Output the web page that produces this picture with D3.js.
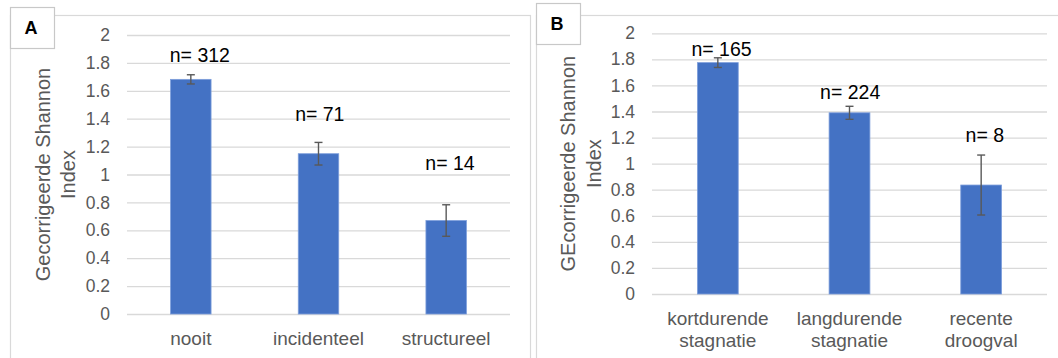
<!DOCTYPE html>
<html>
<head>
<meta charset="utf-8">
<script src="https://cdn.jsdelivr.net/npm/d3@7"></script>
<style>
  html, body { margin: 0; padding: 0; background: #ffffff; }
  svg { display: block; font-family: "Liberation Sans", Arial, sans-serif; }
</style>
</head>
<body>
<svg id="chart" width="1058" height="358"></svg>
<script>
// Panel A: Shannon index by frequency of drying
const categoriesA = [["nooit"], ["incidenteel"], ["structureel"]];
const valuesA = [1.682, 1.149, 0.670];
const errorsA = [0.033, 0.081, 0.113];
const countsA = [312, 71, 14];

// Panel B: Shannon index by type of stagnation
const categoriesB = [["kortdurende", "stagnatie"], ["langdurende", "stagnatie"], ["recente", "droogval"]];
const valuesB = [1.775, 1.390, 0.836];
const errorsB = [0.037, 0.050, 0.230];
const countsB = [165, 224, 8];

// Shared value axis
const tickValues = [0, 0.2, 0.4, 0.6, 0.8, 1, 1.2, 1.4, 1.6, 1.8, 2];
const tickLabels = ["0", "0.2", "0.4", "0.6", "0.8", "1", "1.2", "1.4", "1.6", "1.8", "2"];

const svg = d3.select("#chart");
const GRID = "#d9d9d9";
const TEXT = "#595959";
const BAR = "#4472c4";

const panels = [
  {
    letter: "A",
    frame: { x: 10, y: 15, w: 520, h: 360 },
    badge: { x: 10, y: 7, w: 44, h: 41 },
    x0: 127, x1: 510, yBottom: 314, yTop: 35,
    titleLines: ["Gecorrigeerde Shannon", "Index"], titleX: [50, 75.3],
    cats: categoriesA, vals: valuesA, errs: errorsA, counts: countsA,
    catBaseline: 345,
    nLevel: [1.806, 1.384, 1.032], nShift: [9, 1.3, 3.8],
    pad: 0.683
  },
  {
    letter: "B",
    frame: { x: 536, y: 15, w: 540, h: 360 },
    badge: { x: 536, y: 3, w: 44, h: 41 },
    x0: 652, x1: 1047, yBottom: 294, yTop: 33.3,
    titleLines: ["GEcorrigeerde Shannon", "Index"], titleX: [575.3, 601.3],
    cats: categoriesB, vals: valuesB, errs: errorsB, counts: countsB,
    catBaseline: 325,
    nLevel: [1.825, 1.495, 1.166], nShift: [3.7, 0.7, 3.7],
    pad: 0.69
  }
];

panels.forEach(p => {
  const g = svg.append("g");

  // outer frame of the panel
  g.append("rect")
    .attr("x", p.frame.x + 0.5).attr("y", p.frame.y + 0.5)
    .attr("width", p.frame.w).attr("height", p.frame.h)
    .attr("fill", "none").attr("stroke", GRID).attr("stroke-width", 1.2);

  const y = d3.scaleLinear().domain([0, 2]).range([p.yBottom, p.yTop]);
  const x = d3.scaleBand()
    .domain(p.cats.map((c, i) => i))
    .range([p.x0, p.x1])
    .paddingInner(p.pad).paddingOuter(p.pad / 2);

  // value axis with gridlines
  const axis = d3.axisLeft(y)
    .tickValues(tickValues)
    .tickFormat((d, i) => tickLabels[i])
    .tickSize(-(p.x1 - p.x0))
    .tickPadding(17);
  const ax = g.append("g").attr("transform", `translate(${p.x0},0)`).call(axis);
  ax.select(".domain").remove();
  ax.selectAll(".tick line").attr("stroke", GRID).attr("stroke-width", 1.3);
  ax.selectAll(".tick text")
    .attr("fill", TEXT)
    .style("font-size", "17.5px")
    .style("font-family", "'Liberation Sans', Arial, sans-serif");

  // axis title, two lines rotated
  const cy = (p.yTop + p.yBottom) / 2;
  p.titleLines.forEach((line, i) => {
    g.append("text")
      .attr("transform", `translate(${p.titleX[i]},${cy}) rotate(-90)`)
      .attr("text-anchor", "middle")
      .attr("fill", TEXT)
      .style("font-size", "20px")
      .text(line);
  });

  const idx = p.vals.map((v, i) => i);

  // bars
  g.selectAll("rect.bar").data(idx).enter().append("rect")
    .attr("class", "bar")
    .attr("x", i => x(i))
    .attr("width", x.bandwidth())
    .attr("y", i => y(p.vals[i]))
    .attr("height", i => y(0) - y(p.vals[i]))
    .attr("fill", BAR)
    .attr("stroke", "#7d9edb")
    .attr("stroke-width", 0.8);

  // error bars
  const cap = 4;
  const eb = g.selectAll("g.err").data(idx).enter().append("g")
    .attr("class", "err")
    .attr("stroke", "#595959").attr("stroke-width", 1.4);
  eb.append("line")
    .attr("x1", i => x(i) + x.bandwidth() / 2).attr("x2", i => x(i) + x.bandwidth() / 2)
    .attr("y1", i => y(p.vals[i] + p.errs[i])).attr("y2", i => y(p.vals[i] - p.errs[i]));
  eb.append("line")
    .attr("x1", i => x(i) + x.bandwidth() / 2 - cap).attr("x2", i => x(i) + x.bandwidth() / 2 + cap)
    .attr("y1", i => y(p.vals[i] + p.errs[i])).attr("y2", i => y(p.vals[i] + p.errs[i]));
  eb.append("line")
    .attr("x1", i => x(i) + x.bandwidth() / 2 - cap).attr("x2", i => x(i) + x.bandwidth() / 2 + cap)
    .attr("y1", i => y(p.vals[i] - p.errs[i])).attr("y2", i => y(p.vals[i] - p.errs[i]));

  // sample size annotations
  g.selectAll("text.n").data(idx).enter().append("text")
    .attr("class", "n")
    .attr("x", i => x(i) + x.bandwidth() / 2 + p.nShift[i])
    .attr("y", i => y(p.nLevel[i]))
    .attr("text-anchor", "middle")
    .attr("fill", "#000000")
    .style("font-size", "19.5px")
    .text(i => "n= " + p.counts[i]);

  // category labels
  const cl = g.selectAll("text.cat").data(idx).enter().append("text")
    .attr("class", "cat")
    .attr("text-anchor", "middle")
    .attr("fill", TEXT)
    .style("font-size", "19px");
  cl.each(function(i) {
    const t = d3.select(this);
    p.cats[i].forEach((line, k) => {
      t.append("tspan")
        .attr("x", x(i) + x.bandwidth() / 2)
        .attr("y", p.catBaseline + k * 21.5)
        .text(line);
    });
  });

  // panel letter badge
  g.append("rect")
    .attr("x", p.badge.x + 0.5).attr("y", p.badge.y + 0.5)
    .attr("width", p.badge.w).attr("height", p.badge.h)
    .attr("fill", "#ffffff").attr("stroke", "#c8c8c8").attr("stroke-width", 1.2);
  g.append("text")
    .attr("x", p.badge.x + p.badge.w / 2 - 1)
    .attr("y", p.badge.y + p.badge.h / 2 + 6.5)
    .attr("text-anchor", "middle")
    .attr("fill", "#000000")
    .style("font-size", "18px")
    .style("font-weight", "bold")
    .text(p.letter);
});
</script>
</body>
</html>
